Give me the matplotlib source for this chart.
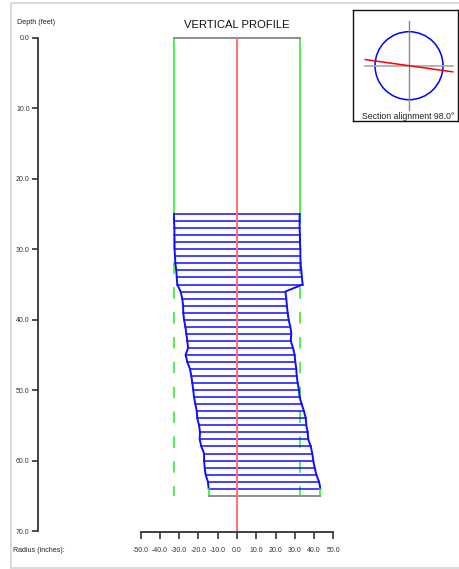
import numpy as np
import matplotlib.pyplot as plt
from matplotlib.patches import Rectangle, Circle

plt.rcParams['font.family'] = ['Liberation Sans', 'DejaVu Sans']
plt.rcParams['lines.scale_dashes'] = False

# Data ~~~~~~~~~~~~~~~~~~~~~~~~~~~~~~~~~~~~~~~~~~~~~~~~~~~~~~~~~~~~~~~~~~~~~~~~~~~~

# measured profile, one slice per foot
depth = np.arange(25, 65)
r_left = [-32.7, -32.7, -32.5, -32.5, -32.4, -32.4, -32.2, -32.0, -31.5, -31.3,
          -31.0, -29.3, -28.4, -28.0, -27.9, -27.5, -26.8, -26.3, -25.8, -25.4,
          -26.7, -25.8, -24.4, -23.7, -23.2, -22.7, -22.3, -21.6, -20.9, -20.6,
          -19.7, -19.2, -19.4, -18.5, -17.1, -17.1, -16.8, -16.3, -15.1, -14.7]
r_right = [32.5, 32.5, 32.5, 32.7, 32.7, 32.9, 32.9, 33.0, 33.4, 33.7,
           34.1, 25.1, 25.6, 25.9, 26.3, 26.8, 27.7, 28.2, 27.9, 29.1,
           29.9, 30.3, 30.8, 31.0, 31.5, 32.2, 32.5, 33.6, 34.8, 35.7,
           36.0, 36.7, 37.0, 38.3, 39.1, 39.6, 40.3, 41.2, 42.6, 43.3]

# nominal casing
nom_left = -32.7
nom_right = 32.5
solid_to = 25.0
bottom_depth = 65.0
axis_depth = 70.2

depth_ticks = np.arange(0, 71, 10)
radius_ticks = np.arange(-50, 51, 10)

alignment = 98.0

# Figure ~~~~~~~~~~~~~~~~~~~~~~~~~~~~~~~~~~~~~~~~~~~~~~~~~~~~~~~~~~~~~~~~~~~~~~~~~~

W, H = 459, 569
fig = plt.figure(figsize=(W/100, H/100), dpi=100)

def fx(px):
    return px / W

def fy(py):
    return 1 - py / H

# main axes fills the figure, scaled so that the radius / depth axes land in place
ax = fig.add_axes([0, 0, 1, 1])
ax.patch.set_visible(False)
xscale = 1.926   # px per inch
yscale = 7.043   # px per foot
x0, y0 = 237.0, 38.0
ax.set_xlim((0 - x0)/xscale, (W - x0)/xscale)
ax.set_ylim((H - y0)/yscale, (0 - y0)/yscale)

green = '#33ee33'
blue = '#1010ff'
red = '#ff7070'
grey = '#8c8c8c'

# casing outline
ax.plot([nom_left, nom_left], [0, solid_to], color=green, lw=1.2)
ax.plot([nom_right, nom_right], [0, solid_to], color=green, lw=1.2)
ax.plot([nom_left, nom_right], [0, 0], color=grey, lw=1.4)
ax.plot([nom_left, nom_left], [solid_to, bottom_depth], color=green, lw=1.2, linestyle=(1, (8.3, 9.6)))
ax.plot([nom_right, nom_right], [solid_to, bottom_depth], color=green, lw=1.2, linestyle=(1, (8.3, 9.6)))

# profile slices
for d, a, b in zip(depth, r_left, r_right):
    ax.plot([a, b], [d, d], color=blue, lw=1.1)
ax.plot(r_left, depth, color=blue, lw=1.4)
ax.plot(r_right, depth, color=blue, lw=1.4)

# bottom
ax.plot([r_left[-1], r_left[-1]], [depth[-1], bottom_depth], color=green, lw=1.2)
ax.plot([r_right[-1], r_right[-1]], [depth[-1], bottom_depth], color=green, lw=1.2)
ax.plot([r_left[-1], r_right[-1]], [bottom_depth, bottom_depth], color=grey, lw=1.4)

# centre line
ax.plot([0, 0], [0, axis_depth], color=red, lw=1.4)

# axes
for s in ['top', 'right']:
    ax.spines[s].set_visible(False)
ax.spines['left'].set_position(('data', (38.3 - x0)/xscale))
ax.spines['left'].set_bounds(0, 70)
ax.spines['bottom'].set_position(('data', axis_depth))
ax.spines['bottom'].set_bounds(-50, 50)
for s in ['left', 'bottom']:
    ax.spines[s].set_color('#333333')
    ax.spines[s].set_linewidth(1.3)
ax.set_yticks(depth_ticks)
ax.set_yticklabels(['%.1f' % v for v in depth_ticks])
ax.set_xticks(radius_ticks)
ax.set_xticklabels(['%.1f' % v for v in radius_ticks])
ax.tick_params(axis='y', direction='out', length=4.5, width=1.2, pad=1.7,
               labelsize=5, colors='#333333')
ax.tick_params(axis='x', direction='out', length=4.8, width=1.2, pad=5.5,
               labelsize=5, colors='#333333')

fig.text(fx(17), fy(22), 'Depth (feet)', fontsize=5.1, color='#222222', va='center', ha='left')
fig.text(fx(12.7), fy(551), 'Radius (inches):', fontsize=5.1, color='#222222', va='center', ha='left')
fig.text(fx(237), fy(24.5), 'VERTICAL PROFILE', fontsize=8.1, color='#111111', va='center', ha='center')

# outer frame
fig.patches.append(Rectangle((fx(10.5), fy(568.3)), fx(460) - fx(10.5), fy(2.7) - fy(568.3),
                             transform=fig.transFigure, fill=False, edgecolor='#d4d4d4', lw=1.2))

# Inset: section alignment ~~~~~~~~~~~~~~~~~~~~~~~~~~~~~~~~~~~~~~~~~~~~~~~~~~~~~~~

ix0, ix1, iy0, iy1 = 353.3, 458.0, 10.0, 120.7
inset = fig.add_axes([fx(ix0), fy(iy1), fx(ix1) - fx(ix0), fy(iy0) - fy(iy1)])
R = 34.0
cx, cy = 409.0, 65.7
inset.set_xlim((ix0 - cx)/R, (ix1 - cx)/R)
inset.set_ylim((cy - iy1)/R, (cy - iy0)/R)
inset.set_xticks([])
inset.set_yticks([])
for s in inset.spines.values():
    s.set_color('#111111')
    s.set_linewidth(1.0)

inset.plot([0, 0], [-1.3, 1.3], color='#888888', lw=1.0)
inset.plot([-1.3, 1.3], [0, 0], color='#a8a8a8', lw=1.2)
inset.add_patch(Circle((0, 0), 1.0, fill=False, edgecolor='#0000ff', lw=1.1))
a = np.radians(alignment)
dx, dy = np.sin(a), np.cos(a)
inset.plot([-1.3*dx, 1.3*dx], [-1.3*dy, 1.3*dy], color='#ff0000', lw=1.1)
inset.text((408 - cx)/R, (cy - 116.7)/R, 'Section alignment %.1f\u00b0' % alignment,
           fontsize=6.3, color='#222222', ha='center', va='center')

plt.savefig('out.png', dpi=100)
